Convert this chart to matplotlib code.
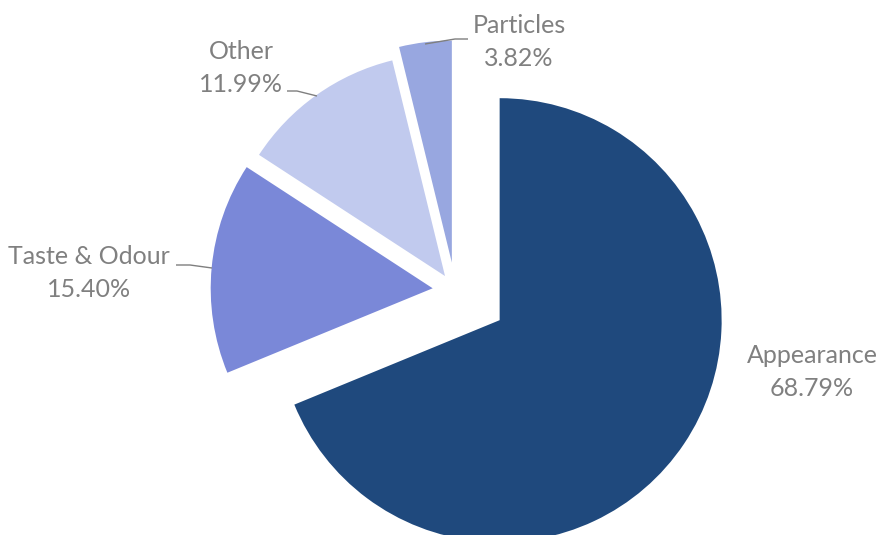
import matplotlib.pyplot as plt

plt.rcParams['font.family'] = ['Lato', 'DejaVu Sans']

# complaint categories and their shares (%)
categories = ['Appearance', 'Taste & Odour', 'Other', 'Particles']
shares = [68.79, 15.40, 11.99, 3.82]

colors = ['#1f497d', '#7a88d8', '#c1caee', '#98a7e0']

W, H = 879, 535
fig = plt.figure(figsize=(W / 100, H / 100), dpi=100)
ax = fig.add_axes([0, 0, 1, 1])

# work in pixel units, y measured from the bottom
cx, cy, r = 455.2, H - 290.4, 222
# pull-out distance of each wedge (pixels, since radius is in pixels)
explode = [53.5, 22.6, 17.6, 28.0]
ax.pie(shares, colors=colors, explode=explode, startangle=90,
       counterclock=False, center=(cx, cy), radius=r,
       wedgeprops=dict(linewidth=0))
ax.set_xlim(0, W)
ax.set_ylim(0, H)
ax.set_aspect('equal')
ax.axis('off')

label_color = '#808080'
# label centre (x, y from top) and leader line points
label_pos = {
    'Appearance': (812, 372, None),
    'Taste & Odour': (89, 273, [(176, 265), (190, 265), (212, 268)]),
    'Other': (241, 68, [(287, 91), (297, 91), (317, 96)]),
    'Particles': (519, 42, [(468, 39), (455, 39), (425, 44)]),
}

for name, share in zip(categories, shares):
    x, y, leader = label_pos[name]
    ax.text(x, H - y, f'{name}\n{share:.2f}%', ha='center', va='center',
            fontsize=18, color=label_color, linespacing=1.55)
    if leader:
        ax.plot([p[0] for p in leader], [H - p[1] for p in leader],
                color='#7f7f7f', lw=1.0, solid_capstyle='butt')

fig.savefig('out.png', dpi=100)
